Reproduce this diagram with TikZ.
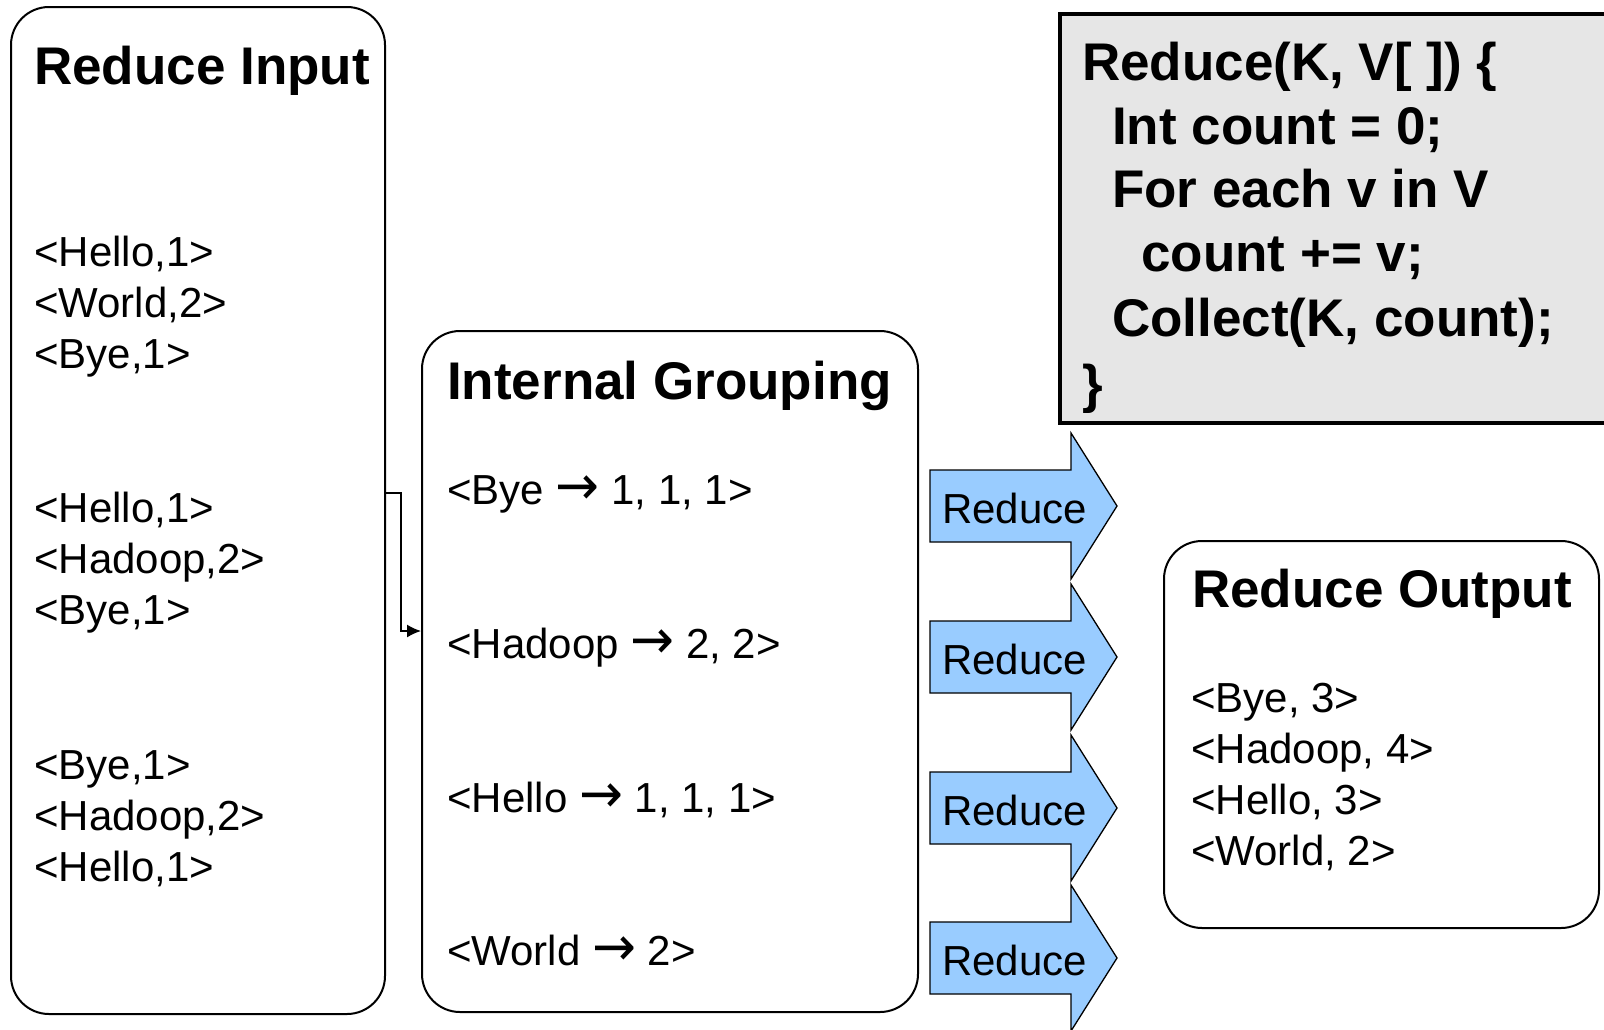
\documentclass[tikz,border=0pt]{standalone}
\usepackage{fontspec}
\usepackage{graphicx}
\setmainfont{Liberation Sans}
\newfontfamily\arrowfont{DejaVu Sans}
\newcommand{\rarr}{\scalebox{1.25}[1.3]{\arrowfont →}}
\usetikzlibrary{arrows.meta}
\tikzset{
  box/.style={draw=black, line width=2pt, rounded corners=38pt, anchor=north west, inner sep=0pt},
  codebox/.style={draw=black, line width=4pt, fill=codegray, anchor=north west, inner sep=0pt},
  ttl/.style={anchor=base west, inner sep=0pt, font=\fontsize{53}{64}\selectfont\bfseries},
  txt/.style={anchor=base west, inner sep=0pt, font=\fontsize{42}{51}\selectfont},
  redarrow/.style={draw=black, line width=1.3pt, fill=arrowblue, line join=miter},
  conn/.style={draw=black, line width=1.5pt, -{Latex[length=14pt,width=13pt]}}
}
\definecolor{codegray}{RGB}{230,230,230}
\definecolor{arrowblue}{RGB}{153,204,255}
\begin{document}
\begin{tikzpicture}[x=1pt,y=-1pt]
\fill[white] (0,0) rectangle (1604,1029);
\clip (0,0) rectangle (1604,1029);

% Reduce Input box
\node[box, minimum width=374pt, minimum height=1007pt] (inbox) at (10,6) {};
\node[ttl] (intitle) at (34,84) {Reduce Input};
\node[txt] (i1) at (34,266) {<Hello,1>};
\node[txt] (i2) at (34,317) {<World,2>};
\node[txt] (i3) at (34,368) {<Bye,1>};
\node[txt] (i4) at (34,522) {<Hello,1>};
\node[txt] (i5) at (34,573) {<Hadoop,2>};
\node[txt] (i6) at (34,624) {<Bye,1>};
\node[txt] (i7) at (34,779) {<Bye,1>};
\node[txt] (i8) at (34,830) {<Hadoop,2>};
\node[txt] (i9) at (34,881) {<Hello,1>};

% Internal Grouping box
\node[box, minimum width=496pt, minimum height=681pt] (grp) at (421,330) {};
\node[ttl] (grptitle) at (447,399) {Internal Grouping};
\node[txt] (g1) at (447,504) {<Bye \rarr{} 1, 1, 1>};
\node[txt] (g2) at (447,658) {<Hadoop \rarr{} 2, 2>};
\node[txt] (g3) at (447,812) {<Hello \rarr{} 1, 1, 1>};
\node[txt] (g4) at (447,965) {<World \rarr{} 2>};

% connector
\coordinate (ya) at (0,493);
\coordinate (yb) at (0,631);
\draw[conn] (inbox.east |- ya) -- ++(15,0) |- (grp.west |- yb);

% code box
\node[codebox, minimum width=600pt, minimum height=409pt] (code) at (1058,12) {};
\node[ttl] (c1) at (1082,80) {Reduce(K, V[ ]) \{};
\node[ttl] (c2) at (1112,144) {Int count = 0;};
\node[ttl] (c3) at (1112,207) {For each v in V};
\node[ttl] (c4) at (1141,271) {count += v;};
\node[ttl] (c5) at (1112,336) {Collect(K, count);};
\node[ttl] (c6) at (1082,402) {\}};

% reduce arrows
\foreach \yy/\nm in {506/r1, 657/r2, 808/r3, 958/r4}{
  \draw[redarrow] (930,\yy-36) -- (1071,\yy-36) -- (1071,\yy-73) -- (1117,\yy)
     -- (1071,\yy+73) -- (1071,\yy+36) -- (930,\yy+36) -- cycle;
  \node[anchor=west, inner sep=0pt, font=\fontsize{42}{51}\selectfont] (\nm) at (942,\yy+2) {Reduce};
}

% Reduce Output box
\node[box, minimum width=435pt, minimum height=387pt] (outbox) at (1163,540) {};
\node[ttl] (outtitle) at (1192,607) {Reduce Output};
\node[txt] (o1) at (1191,712) {<Bye, 3>};
\node[txt] (o2) at (1191,763) {<Hadoop, 4>};
\node[txt] (o3) at (1191,814) {<Hello, 3>};
\node[txt] (o4) at (1191,865) {<World, 2>};
\end{tikzpicture}
\end{document}
